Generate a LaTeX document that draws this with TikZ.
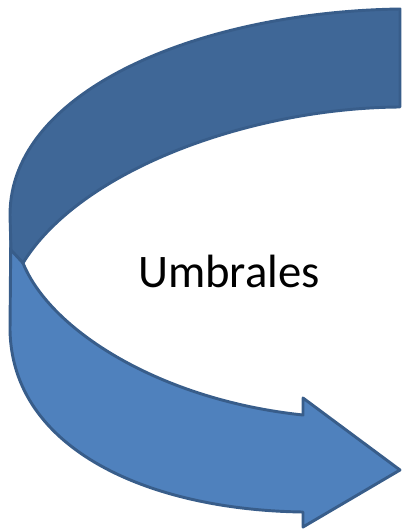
\documentclass[tikz,border=0pt]{standalone}
\usepackage{fontspec}
\setmainfont{Carlito}
\usepackage{xcolor}
\usepackage{tikz}
\definecolor{umbralight}{HTML}{4F81BD}
\definecolor{umbradark}{HTML}{3F6797}
\definecolor{umbraline}{HTML}{385D8A}

\begin{document}
\begin{tikzpicture}[x=0.75pt, y=-0.75pt,
  lightband/.style={fill=umbralight, draw=umbraline, line width=2.2pt, line join=round},
  darkband/.style={fill=umbradark, draw=umbraline, line width=2.2pt, line join=round},
  labeltext/.style={font=\fontsize{35}{40}\selectfont, text=black}]

  \useasboundingbox (0,0) rectangle (403,530);

  % lower band with the arrow head
  \draw[lightband] (11,215) -- (10,330)
    .. controls (12,450) and (150,510) .. (303,512)
    -- (303,527) -- (400,470) -- (303,398) -- (303,415)
    .. controls (160,400) and (50,330) .. (23,263) -- cycle;

  % upper band, turned over
  \draw[darkband] (400,9)
    .. controls (200,12) and (10,90) .. (10,215)
    -- (11,250) -- (23,263)
    .. controls (80,170) and (250,108) .. (400,107) -- cycle;

  \node[labeltext] (label) at (229,271) {Umbrales};
\end{tikzpicture}
\end{document}
